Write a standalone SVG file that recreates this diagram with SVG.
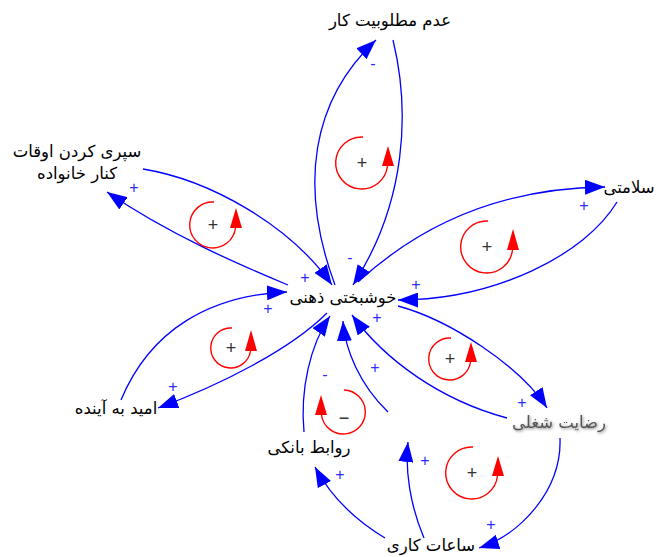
<svg xmlns="http://www.w3.org/2000/svg" width="658" height="557" viewBox="0 0 658 557">
<style>
.lnk{fill:none;stroke:#0000ff;stroke-width:1.3;marker-end:url(#ah)}
.nd{font-family:"DejaVu Sans","Noto Sans",sans-serif;font-size:16.5px;fill:#000;text-anchor:middle}
.pol{font-family:"Liberation Sans",Arial,sans-serif;font-size:16px;fill:#2b2bff;text-anchor:middle}
.lp{fill:none;stroke:#ff0000;stroke-width:1.4}
.lh{fill:#ff0000;stroke:none}
.lt{font-family:"Liberation Sans",Arial,sans-serif;font-size:18px;fill:#333;text-anchor:middle}
</style>
<defs>
<marker id="ah" markerUnits="userSpaceOnUse" markerWidth="21" markerHeight="15" viewBox="0 0 21 15" refX="20" refY="7.5" orient="auto">
<path d="M0,0 L20,7.5 L0,15 Z" fill="#0000ff"/>
</marker>
<filter id="sh" x="-20%" y="-40%" width="140%" height="180%">
<feGaussianBlur in="SourceAlpha" stdDeviation="1.5" result="b"/>
<feOffset in="b" dx="1" dy="1" result="o"/>
<feComponentTransfer in="o" result="o2"><feFuncA type="linear" slope="0.5"/></feComponentTransfer>
<feMerge><feMergeNode in="o2"/><feMergeNode in="SourceGraphic"/></feMerge>
</filter>
</defs>

<g id="connectors">
<path class="lnk" d="M335,285 C298,185 312,100 376,40"/>
<path class="lnk" d="M393,40 C410,110 407,202 353,285"/>
<path class="lnk" d="M288,285 C240,265 170,235 107,192"/>
<path class="lnk" d="M143,169 C210,180 290,225 332,285"/>
<path class="lnk" d="M358,282 C420,225 500,188 605,187"/>
<path class="lnk" d="M617,202 C585,255 495,300 398,300"/>
<path class="lnk" d="M398,306 C450,320 520,366 547,408"/>
<path class="lnk" d="M507,418 C440,400 385,360 352,315"/>
<path class="lnk" d="M327,313 C290,350 220,385 158,408"/>
<path class="lnk" d="M121,400 C150,330 210,295 287,292"/>
<path class="lnk" d="M304,432 C300,390 310,345 330,316"/>
<path class="lnk" d="M388,412 C360,385 345,350 343,321"/>
<path class="lnk" d="M385,538 C355,520 330,495 315,467"/>
<path class="lnk" d="M424,538 C410,505 405,470 408,442"/>
<path class="lnk" d="M560,438 C562,490 520,535 479,548"/>
</g>

<g id="polarities">
<text class="pol" x="373" y="69">-</text>
<text class="pol" x="350" y="263">-</text>
<text class="pol" x="134" y="193">+</text>
<text class="pol" x="305" y="283">+</text>
<text class="pol" x="584" y="211">+</text>
<text class="pol" x="416" y="290">+</text>
<text class="pol" x="268" y="314">+</text>
<text class="pol" x="173" y="392">+</text>
<text class="pol" x="377" y="323">+</text>
<text class="pol" x="325" y="380">-</text>
<text class="pol" x="375" y="373">+</text>
<text class="pol" x="522" y="408">+</text>
<text class="pol" x="425" y="466">+</text>
<text class="pol" x="340" y="480">+</text>
<text class="pol" x="491" y="530">+</text>
</g>

<g id="loops">
<g id="loop1"><path class="lp" d="M363,137 A26,26 0 1 0 387.5,166"/><polygon class="lh" points="382,166 394,166 388,146"/><text class="lt" x="362" y="169">+</text></g>
<g id="loop2"><path class="lp" d="M214,202 A23,23 0 1 0 235.5,228"/><polygon class="lh" points="230,228 242,228 236,208"/><text class="lt" x="213" y="231">+</text></g>
<g id="loop3"><path class="lp" d="M488,221 A26,26 0 1 0 512.5,250"/><polygon class="lh" points="507,250 519,250 513,229"/><text class="lt" x="487" y="253">+</text></g>
<g id="loop4"><path class="lp" d="M232,328 A20,20 0 1 0 250.5,351"/><polygon class="lh" points="245,351 257,351 251,330"/><text class="lt" x="231" y="354">+</text></g>
<g id="loop5"><path class="lp" d="M451,338 A21,21 0 1 0 470.5,362"/><polygon class="lh" points="465,362 477,362 471,342"/><text class="lt" x="450" y="365">+</text></g>
<g id="loop6"><path class="lp" d="M344,390 A22,22 0 1 1 321.5,415"/><polygon class="lh" points="315,415 327,415 321,395"/><text class="lt" x="344" y="424">−</text></g>
<g id="loop7"><path class="lp" d="M473,447 A26,26 0 1 0 497.5,476"/><polygon class="lh" points="492,476 504,476 498,456"/><text class="lt" x="472" y="479">+</text></g>
</g>

<g id="n-adam"><text class="nd" x="390" y="26">عدم مطلوبیت کار</text></g>
<g id="n-separi"><text class="nd" x="77" y="157">سپری کردن اوقات</text><text class="nd" x="77" y="179">کنار خانواده</text></g>
<g id="n-salamati"><text class="nd" x="629" y="193">سلامتی</text></g>
<g id="n-khoshbakhti"><text class="nd" x="343" y="303">خوشبختی ذهنی</text></g>
<g id="n-omid"><text class="nd" x="116" y="414">امید به آینده</text></g>
<g id="n-ravabet"><text class="nd" x="309" y="453">روابط بانکی</text></g>
<g id="n-rezayat"><text class="nd" x="559" y="428" style="fill:#555" filter="url(#sh)">رضایت شغلی</text></g>
<g id="n-saat"><text class="nd" x="431" y="551">ساعات کاری</text></g>
</svg>
